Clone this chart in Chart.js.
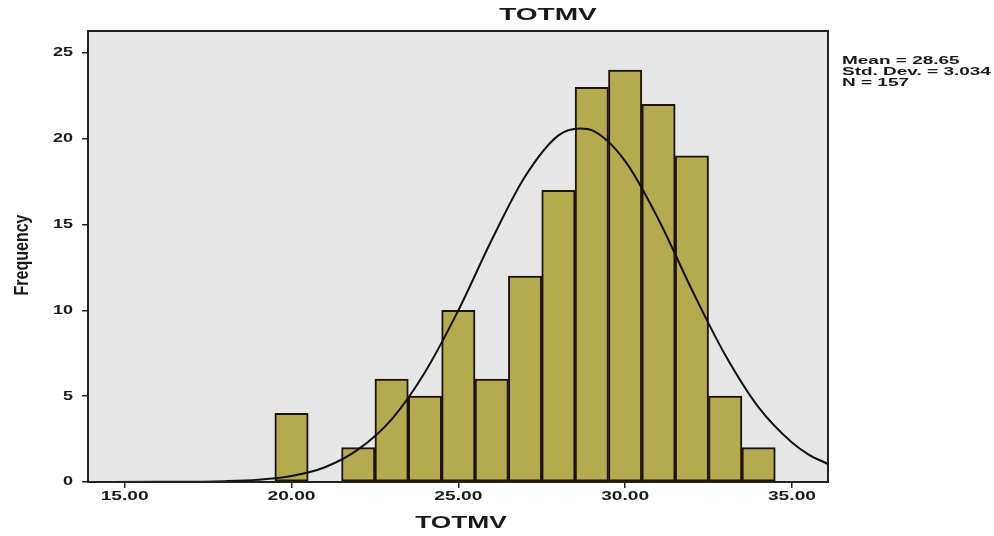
<!DOCTYPE html>
<html>
<head>
<meta charset="utf-8">
<script src="https://cdn.jsdelivr.net/npm/chart.js@4.4.1/dist/chart.umd.min.js"></script>
<style>
  html, body { margin: 0; padding: 0; background: #fff; }
  #wrap { width: 994px; height: 536px; position: relative; }
</style>
</head>
<body>
<div id="wrap"><canvas id="hist"></canvas></div>
<script>
// Histogram bins (bin centres) and counts
const binCentres = [20, 22, 23, 24, 25, 26, 27, 28, 29, 30, 31, 32, 33, 34];
const binCounts = [4, 2, 6, 5, 10, 6, 12, 17, 23, 24, 22, 19, 5, 2];

// Normal curve
const curveX = [13.9, 16, 18, 19, 20, 21, 22, 23, 24, 25, 26, 27, 28, 28.65, 29, 30, 31, 32, 33, 34, 35, 35.5, 36.08];
const curveY = [0, 0.01, 0.05, 0.13, 0.35, 0.86, 1.9, 3.65, 6.4, 10.0, 14.1, 17.8, 20.2, 20.6, 20.5, 18.7, 15.3, 11.2, 7.4, 4.35, 2.3, 1.6, 1.05];

const xTicks = [15, 20, 25, 30, 35];
const yTicks = [0, 5, 10, 15, 20, 25];

const statsLines = ['Mean = 28.65', 'Std. Dev. = 3.034', 'N = 157'];

const font = '"Liberation Sans", Arial, sans-serif';

// the reference text is stretched sideways, so draw it scaled
function wideText(ctx, text, x, y, size, sx, align) {
  ctx.save();
  ctx.font = 'bold ' + size + 'px ' + font;
  ctx.textBaseline = 'middle';
  ctx.textAlign = 'left';
  const w = ctx.measureText(text).width * sx;
  let left = x;
  if (align === 'center') left = x - w / 2;
  if (align === 'right') left = x - w;
  ctx.translate(left, y);
  ctx.scale(sx, 1);
  ctx.fillText(text, 0, 0);
  ctx.restore();
}

const plotBg = {
  id: 'plotBg',
  beforeDraw(chart) {
    const { ctx, chartArea: a } = chart;
    ctx.save();
    ctx.fillStyle = '#e6e6e6';
    ctx.fillRect(a.left, a.top, a.right - a.left, a.bottom - a.top);
    ctx.restore();
  },
  afterDraw(chart) {
    const { ctx, chartArea: a, scales } = chart;
    ctx.save();
    // frame
    ctx.strokeStyle = '#222';
    ctx.lineWidth = 2;
    ctx.strokeRect(a.left, a.top, a.right - a.left, a.bottom - a.top);
    ctx.fillStyle = '#1a1a1a';
    // tick labels
    xTicks.forEach(v => wideText(ctx, v.toFixed(2), scales.x.getPixelForValue(v), 497, 12, 1.6, 'center'));
    yTicks.forEach(v => wideText(ctx, String(v), 73, scales.y.getPixelForValue(v), 12, 1.5, 'right'));
    // titles
    wideText(ctx, 'TOTMV', 548, 15, 17, 1.65, 'center');
    wideText(ctx, 'TOTMV', 461, 523, 17, 1.55, 'center');
    // y title, rotated and squeezed along its length
    ctx.save();
    ctx.translate(28, 255);
    ctx.rotate(-Math.PI / 2);
    ctx.scale(0.8, 1);
    ctx.font = 'bold 20px ' + font;
    ctx.textAlign = 'center';
    ctx.textBaseline = 'alphabetic';
    ctx.fillText('Frequency', 0, 0);
    ctx.restore();
    // stats
    statsLines.forEach((t, i) => wideText(ctx, t, 842, 61 + i * 11, 11.5, 1.65, 'left'));
    ctx.restore();
  }
};

new Chart(document.getElementById('hist'), {
  type: 'bar',
  data: {
    datasets: [
      {
        type: 'line',
        data: curveX.map((x, i) => ({ x: x, y: curveY[i] })),
        borderColor: '#111',
        borderWidth: 2,
        pointRadius: 0,
        cubicInterpolationMode: 'monotone',
        fill: false,
        order: 0
      },
      {
        data: binCentres.map((x, i) => ({ x: x, y: binCounts[i] })),
        backgroundColor: '#b4aa50',
        borderColor: '#1c140a',
        borderWidth: 2,
        borderSkipped: false,
        barPercentage: 1,
        categoryPercentage: 1,
        order: 1
      }
    ]
  },
  options: {
    responsive: true,
    maintainAspectRatio: false,
    animation: false,
    layout: { padding: { top: 31, right: 166, left: 0, bottom: 0 } },
    plugins: {
      legend: { display: false },
      tooltip: { enabled: false }
    },
    scales: {
      x: {
        type: 'linear',
        offset: false,
        min: 13.9,
        max: 36.08,
        afterBuildTicks: axis => { axis.ticks = xTicks.map(v => ({ value: v })); },
        afterFit: axis => { axis.height = 54; },
        grid: { drawOnChartArea: false, tickLength: 6, color: '#222', lineWidth: 1.5, offset: false },
        border: { display: false },
        ticks: { display: false }
      },
      y: {
        min: 0,
        max: 26.28,
        afterBuildTicks: axis => { axis.ticks = yTicks.map(v => ({ value: v })); },
        afterFit: axis => { axis.width = 88; },
        grid: { drawOnChartArea: false, tickLength: 6, color: '#222', lineWidth: 1.5 },
        border: { display: false },
        ticks: { display: false }
      }
    }
  },
  plugins: [plotBg]
});
</script>
</body>
</html>
